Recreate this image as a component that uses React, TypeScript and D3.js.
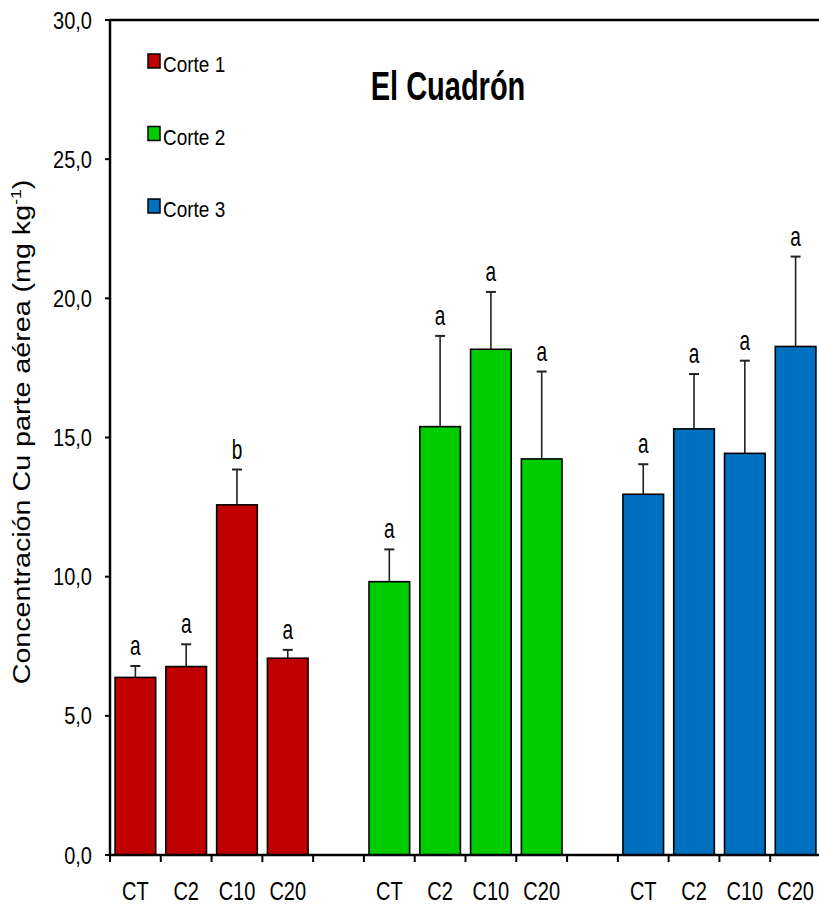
import React from "react";
import * as d3 from "d3";

const cortes = ["Corte 1", "Corte 2", "Corte 3"];
const treatments = ["CT", "C2", "C10", "C20"];
const corte1 = [6.38, 6.77, 12.58, 7.07];
const corte2 = [9.82, 15.39, 18.17, 14.23];
const corte3 = [12.96, 15.31, 14.43, 18.27];
const err1 = [0.41, 0.8, 1.27, 0.3];
const err2 = [1.16, 3.26, 2.06, 3.14];
const err3 = [1.08, 1.97, 3.33, 3.23];
const letters1 = ["a", "a", "b", "a"];
const letters2 = ["a", "a", "a", "a"];
const letters3 = ["a", "a", "a", "a"];
const yTicks = [0, 5, 10, 15, 20, 25, 30];

const colors = ["#C00000", "#00CC00", "#0070C0"];
const FONT = "'Liberation Sans', Arial, sans-serif";

const W = 819;
const H = 909;
const left = 110;
const right = 821;
const top = 20;
const bottom = 855;

// flat list of bars, with empty slots between the cuts
const values = [corte1, corte2, corte3];
const errors = [err1, err2, err3];
const letters = [letters1, letters2, letters3];
const slots: string[] = [];
cortes.forEach((c, gi) => {
  treatments.forEach(t => slots.push(`${gi}-${t}`));
  if (gi < cortes.length - 1) slots.push(`gap${gi}`);
});

const bars = cortes.flatMap((c, gi) =>
  treatments.map((t, ti) => ({
    key: `${gi}-${t}`,
    label: t,
    group: gi,
    value: values[gi][ti],
    err: errors[gi][ti],
    letter: letters[gi][ti],
  }))
);

export default function App() {
  const x = d3
    .scaleBand<string>()
    .domain(slots)
    .range([left, right])
    .paddingInner(0.2)
    .paddingOuter(0.1);
  const y = d3.scaleLinear().domain([0, 30]).range([bottom, top]);
  const step = x.step();
  const fmt = (d: number) => d3.format(".1f")(d).replace(".", ",");

  return (
    <svg
      width={W}
      height={H}
      style={{ position: "absolute", left: 0, top: 0, background: "#fff" }}
      fontFamily={FONT}
    >
      {/* bars */}
      {bars.map(b => {
        const bx = x(b.key)!;
        const cx = bx + x.bandwidth() / 2;
        const yTop = y(b.value);
        const yErr = y(b.value + b.err);
        return (
          <g key={b.key}>
            <line x1={cx} x2={cx} y1={yTop} y2={yErr} stroke="#222" strokeWidth={1.6} />
            <line x1={cx - 5} x2={cx + 5} y1={yErr} y2={yErr} stroke="#222" strokeWidth={2} />
            <rect
              x={bx}
              y={yTop}
              width={x.bandwidth()}
              height={bottom - yTop}
              fill={colors[b.group]}
              stroke="#000"
              strokeWidth={1.6}
            />
            <text
              transform={`translate(${cx},${yErr - 11}) scale(1,1.5)`}
              textAnchor="middle"
              fontSize={19}
              fill="#000"
            >
              {b.letter}
            </text>
          </g>
        );
      })}

      {/* frame and axes */}
      <line x1={left} x2={W} y1={top} y2={top} stroke="#000" strokeWidth={2.5} />
      <line x1={left} x2={W} y1={bottom} y2={bottom} stroke="#000" strokeWidth={2.5} />
      <line x1={left} x2={left} y1={top} y2={bottom} stroke="#000" strokeWidth={2.5} />

      {yTicks.map(t => (
        <g key={t}>
          <line x1={left - 5} x2={left} y1={y(t)} y2={y(t)} stroke="#000" strokeWidth={2} />
          <text
            transform={`translate(92,${y(t) + 8.5}) scale(1,1.2)`}
            textAnchor="end"
            fontSize={20}
            fill="#000"
          >
            {fmt(t)}
          </text>
        </g>
      ))}

      {slots.map((s, i) => (
        <line
          key={s}
          x1={left + i * step}
          x2={left + i * step}
          y1={bottom}
          y2={bottom + 7}
          stroke="#000"
          strokeWidth={2}
        />
      ))}

      {bars.map(b => (
        <text
          key={`lab-${b.key}`}
          transform={`translate(${x(b.key)! + x.bandwidth() / 2},900) scale(1,1.25)`}
          textAnchor="middle"
          fontSize={20}
          fill="#000"
        >
          {b.label}
        </text>
      ))}

      {/* y axis title */}
      <text
        transform="translate(30,432) scale(1,1.17) rotate(-90)"
        textAnchor="middle"
        fontSize={24.5}
        fill="#000"
      >
        Concentración Cu parte aérea (mg kg
        <tspan fontSize={15} dy={-9}>-1</tspan>
        <tspan dy={9}>)</tspan>
      </text>

      {/* title */}
      <text
        transform="translate(448,100) scale(1,1.4)"
        textAnchor="middle"
        fontSize={29}
        fontWeight="bold"
        fill="#000"
      >
        El Cuadrón
      </text>

      {/* legend */}
      {cortes.map((c, i) => (
        <g key={c} transform={`translate(148,${54 + i * 72.5})`}>
          <rect x={0} y={0} width={12} height={14} fill={colors[i]} stroke="#000" strokeWidth={1.5} />
          <text transform="translate(15,18) scale(1,1.2)" fontSize={19} fill="#000">
            {c}
          </text>
        </g>
      ))}
    </svg>
  );
}
